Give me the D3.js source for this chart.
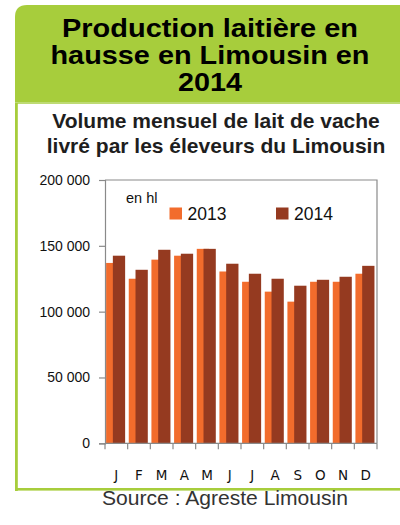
<!DOCTYPE html>
<html>
<head>
<meta charset="utf-8">
<script src="https://cdn.jsdelivr.net/npm/d3@7"></script>
<style>
  html, body { margin: 0; padding: 0; background: #fff; }
  svg { display: block; font-family: "Liberation Sans", Arial, sans-serif; }
</style>
</head>
<body>
<div id="chart"></div>
<script>
let width = 400
  , height = 525;

// data
let months = ['J', 'F', 'M', 'A', 'M', 'J', 'J', 'A', 'S', 'O', 'N', 'D'];
let series = ['2013', '2014'];
let values2013 = [137000, 125000, 139500, 142500, 147700, 130500, 122700, 115200, 107600, 122700, 122700, 128800];
let values2014 = [142500, 131800, 147000, 144000, 147700, 136400, 128800, 125000, 119700, 124200, 126500, 134800];
let yTicks = [0, 50000, 100000, 150000, 200000];
let titleLines = ['Production laitière en', 'hausse en Limousin en', '2014'];
let subtitleLines = ['Volume mensuel de lait de vache', 'livré par les éleveurs du Limousin'];

let colors = { '2013': '#f26c2c', '2014': '#953a20' };
let green = '#a7cd3c';

let svg = d3.select('#chart').append('svg').attr('width', width).attr('height', height);

// header box, rounded top-left corner
let r = 12;
svg.append('path')
  .attr('d', `M15,${5 + r} Q15,5 ${15 + r},5 L400,5 L400,102 L15,102 Z`)
  .attr('fill', green);
svg.append('rect').attr('x', 15).attr('y', 102).attr('width', 385).attr('height', 2).attr('fill', '#bedb74');

// frame around the chart body
svg.append('rect').attr('x', 15).attr('y', 103).attr('width', 2.8).attr('height', 388).attr('fill', green);
svg.append('rect').attr('x', 15).attr('y', 488).attr('width', 385).attr('height', 2.6).attr('fill', green);

// title
let titleLen = [296, 319, 64];
svg.append('g').selectAll('text').data(titleLines).enter().append('text')
  .attr('x', 210).attr('y', (d, i) => 37 + i * 27)
  .attr('text-anchor', 'middle')
  .attr('font-size', 26).attr('font-weight', 'bold').attr('fill', '#000')
  .attr('textLength', (d, i) => titleLen[i]).attr('lengthAdjust', 'spacingAndGlyphs')
  .text(d => d);

// subtitle
svg.append('g').selectAll('text').data(subtitleLines).enter().append('text')
  .attr('x', 216).attr('y', (d, i) => 128 + i * 25)
  .attr('text-anchor', 'middle')
  .attr('font-size', 21).attr('font-weight', 'bold').attr('fill', '#1e1e1e')
  .text(d => d);

// plot area
let plot = { left: 105, right: 377, top: 180, bottom: 443.3 };

let x = d3.scaleBand().domain(d3.range(months.length))
  .range([plot.left, plot.right])
  .paddingInner(0.16).paddingOuter(0.08).align(0.3);
let y = d3.scaleLinear().domain([0, 200000]).range([plot.bottom, plot.top]);

let fr = d3.formatLocale({ decimal: ',', thousands: '\u00a0', grouping: [3], currency: ['', ' €'] });
let fmt = fr.format(',');

// bars: 2013 behind, 2014 overlapping on top
let barW = x.bandwidth() * 0.645;
let data = months.map((m, i) => ({ i: i, m: m, '2013': values2013[i], '2014': values2014[i] }));

svg.append('g').selectAll('rect').data(data).enter().append('rect')
  .attr('x', d => x(d.i))
  .attr('y', d => y(d['2013']))
  .attr('width', barW)
  .attr('height', d => y(0) - y(d['2013']))
  .attr('fill', colors['2013']);

svg.append('g').selectAll('rect').data(data).enter().append('rect')
  .attr('x', d => x(d.i) + x.bandwidth() - barW)
  .attr('y', d => y(d['2014']))
  .attr('width', barW)
  .attr('height', d => y(0) - y(d['2014']))
  .attr('fill', colors['2014']);

// frame (top + right)
let axisColor = '#8a8a8a';
svg.append('path')
  .attr('d', `M${plot.left},${plot.top} H${plot.right} V${plot.bottom}`)
  .attr('fill', 'none').attr('stroke', axisColor).attr('stroke-width', 1.2);

// y axis
let yAxis = svg.append('g').attr('transform', `translate(${plot.left},0)`)
  .call(d3.axisLeft(y).tickValues(yTicks).tickSize(6).tickPadding(9).tickFormat(fmt));
yAxis.select('.domain').attr('stroke', axisColor).attr('stroke-width', 1.2);
yAxis.selectAll('.tick line').attr('stroke', axisColor).attr('stroke-width', 1.2);
yAxis.selectAll('.tick text')
  .attr('font-family', '"Liberation Sans", Arial, sans-serif')
  .attr('font-size', 14).attr('fill', '#111');

// x axis: ticks on category boundaries, labels centred
let bounds = d3.range(months.length + 1).map(i => plot.left + i * x.step());
let xAxis = svg.append('g');
xAxis.append('line')
  .attr('x1', plot.left).attr('x2', plot.right)
  .attr('y1', plot.bottom).attr('y2', plot.bottom)
  .attr('stroke', axisColor).attr('stroke-width', 1.2);
xAxis.selectAll('line.tick').data(bounds).enter().append('line')
  .attr('class', 'tick')
  .attr('x1', d => d).attr('x2', d => d)
  .attr('y1', plot.bottom).attr('y2', plot.bottom + 6)
  .attr('stroke', axisColor).attr('stroke-width', 1.2);
xAxis.selectAll('text').data(data).enter().append('text')
  .attr('x', d => plot.left + (d.i + 0.5) * x.step())
  .attr('y', 480)
  .attr('text-anchor', 'middle')
  .attr('font-family', '"DejaVu Sans", sans-serif')
  .attr('font-size', 13.5).attr('fill', '#111')
  .text(d => d.m);

// legend
svg.append('text').attr('x', 126).attr('y', 203)
  .attr('font-size', 14.5).attr('fill', '#111').text('en hl');

let legend = svg.append('g').selectAll('g').data(series).enter().append('g')
  .attr('transform', (d, i) => `translate(${[169.5, 276][i]},207.5)`);
legend.append('rect').attr('width', 12.5).attr('height', 12).attr('fill', d => colors[d]);
legend.append('text').attr('x', 18).attr('y', 12.5)
  .attr('font-size', 17.5).attr('fill', '#111').text(d => d);

// source
svg.append('text').attr('x', 225).attr('y', 505)
  .attr('text-anchor', 'middle')
  .attr('font-size', 20).attr('fill', '#333')
  .attr('textLength', 246).attr('lengthAdjust', 'spacingAndGlyphs')
  .text('Source : Agreste Limousin');
</script>
</body>
</html>
